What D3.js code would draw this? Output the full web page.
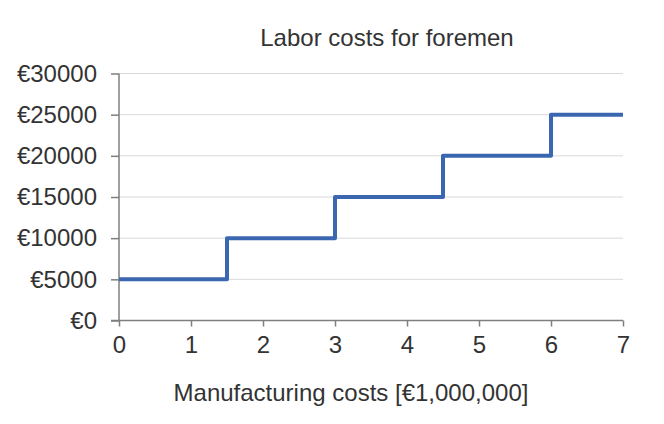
<!DOCTYPE html>
<html>
<head>
<meta charset="utf-8">
<script src="https://cdn.jsdelivr.net/npm/d3@7"></script>
<style>
  body { margin: 0; background: #fff; }
  text { font-family: "Liberation Sans", Arial, sans-serif; fill: #333333; }
</style>
</head>
<body>
<svg width="664" height="424"></svg>
<script>
var width = 664;
var height = 424;

// step points (manufacturing costs in millions, labor cost)
var costs = [0, 1.5, 3, 4.5, 6, 7];
var labor = [5000, 10000, 15000, 20000, 25000, 25000];
var xTicks = [0, 1, 2, 3, 4, 5, 6, 7];
var yTicks = [0, 5000, 10000, 15000, 20000, 25000, 30000];

var svg = d3.select('svg');

var x = d3.scaleLinear().domain([0, 7]).range([119, 623]);
var y = d3.scaleLinear().domain([0, 30000]).range([320.5, 73.5]);

// gridlines
svg.append("g")
    .selectAll("line")
    .data(yTicks.slice(1))
    .enter()
    .append("line")
    .attr("x1", x(0))
    .attr("x2", x(7))
    .attr("y1", function(d) { return y(d); })
    .attr("y2", function(d) { return y(d); })
    .attr("stroke", "#d9d9d9")
    .attr("stroke-width", 1);

// y axis
var yAxis = d3.axisLeft(y).tickValues(yTicks).tickSize(8).tickPadding(14)
    .tickFormat(function(d) { return "€" + d; });
var yg = svg.append("g")
    .attr("transform", "translate(" + x(0) + ",0)")
    .call(yAxis);

// x axis
var xAxis = d3.axisBottom(x).tickValues(xTicks).tickSize(6).tickPadding(9)
    .tickFormat(d3.format("d"));
var xg = svg.append("g")
    .attr("transform", "translate(0," + y(0) + ")")
    .call(xAxis);

[yg, xg].forEach(function(g) {
    g.select(".domain").attr("stroke", "#7f7f7f").attr("stroke-width", 1.5);
    g.selectAll(".tick line").attr("stroke", "#7f7f7f").attr("stroke-width", 1.5);
    g.selectAll(".tick text")
        .attr("font-size", "24px")
        .attr("font-family", "Liberation Sans, Arial, sans-serif")
        .attr("fill", "#333333");
});
yg.select(".domain").attr("d", "M0," + y(30000) + "V" + y(0));
xg.select(".domain").attr("d", "M" + (x(0) - 8) + ",0H" + x(7));

// step line
var points = costs.map(function(c, i) { return [c, labor[i]]; });
var line = d3.line()
    .x(function(d) { return x(d[0]); })
    .y(function(d) { return y(d[1]); })
    .curve(d3.curveStepAfter);

svg.append("path")
    .datum(points)
    .attr("d", line)
    .attr("fill", "none")
    .attr("stroke", "#3b67b1")
    .attr("stroke-width", 4)
    .attr("stroke-linejoin", "round");

// title
svg.append("text")
    .attr("x", 387)
    .attr("y", 46)
    .attr("text-anchor", "middle")
    .attr("font-size", "24px")
    .text("Labor costs for foremen");

// x axis label
svg.append("text")
    .attr("x", 351)
    .attr("y", 401)
    .attr("text-anchor", "middle")
    .attr("font-size", "24px")
    .text("Manufacturing costs [€1,000,000]");
</script>
</body>
</html>
